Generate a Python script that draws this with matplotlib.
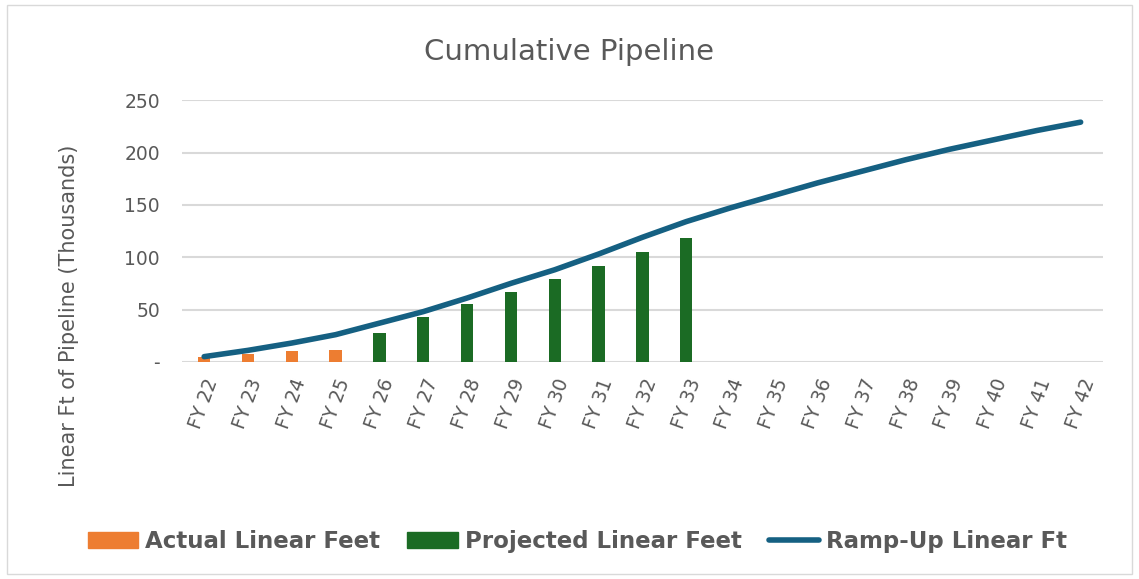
import matplotlib
matplotlib.use("Agg")
import matplotlib.pyplot as plt
from matplotlib.patches import Rectangle
from matplotlib.lines import Line2D

years = ["FY 22", "FY 23", "FY 24", "FY 25", "FY 26", "FY 27", "FY 28", "FY 29", "FY 30",
         "FY 31", "FY 32", "FY 33", "FY 34", "FY 35", "FY 36", "FY 37", "FY 38", "FY 39",
         "FY 40", "FY 41", "FY 42"]
actual = [5, 8, 10, 11]
projected = [28, 43, 55, 67, 79, 92, 105, 118]
ramp_up = [5, 11, 18, 26, 37, 48, 61, 75, 88, 103, 119, 134, 147, 159, 171, 182, 193,
           203, 212, 221, 229]
y_ticks = [0, 50, 100, 150, 200, 250]
y_tick_labels = ["-", "50", "100", "150", "200", "250"]

gray = "#595959"
orange = "#ED7D31"
green = "#1B6B24"
blue = "#156082"

fig = plt.figure(figsize=(11.39, 5.79), dpi=100)
fig.patches.append(Rectangle((0.006, 0.008), 0.988, 0.984, transform=fig.transFigure,
                             fill=False, edgecolor="#D9D9D9", linewidth=1))
ax = fig.add_axes([0.160, 0.375, 0.808, 0.452])

x = list(range(len(years)))
ax.bar(x[:len(actual)], actual, width=0.28, color=orange, zorder=2)
ax.bar(x[len(actual):len(actual) + len(projected)], projected, width=0.28, color=green, zorder=2)
ax.plot(x, ramp_up, color=blue, linewidth=4, solid_capstyle="round", zorder=3)

ax.set_xlim(-0.5, len(years) - 0.5)
ax.set_ylim(0, 250)
ax.set_yticks(y_ticks)
ax.set_yticklabels(y_tick_labels, fontsize=13.5, color=gray)
ax.set_xticks(x)
ax.set_xticklabels(years, rotation=70, fontsize=13.5, color=gray, ha="right",
                   rotation_mode="anchor")
ax.tick_params(axis="y", length=0, pad=16)
ax.tick_params(axis="x", length=0, pad=10)
ax.grid(axis="y", color="#D9D9D9", linewidth=1.5, zorder=0)
ax.set_axisbelow(True)
for s in ax.spines.values():
    s.set_visible(False)

ax.set_ylabel("Linear Ft of Pipeline (Thousands)", fontsize=15, color=gray)
ax.yaxis.set_label_coords(-0.112, 0.176)
fig.text(0.5, 0.91, "Cumulative Pipeline", ha="center", va="center", fontsize=21, color=gray)

handles = [Rectangle((0, 0), 1, 1, color=orange),
           Rectangle((0, 0), 1, 1, color=green),
           Line2D([0], [0], color=blue, linewidth=4, solid_capstyle="round")]
labels = ["Actual Linear Feet", "Projected Linear Feet", "Ramp-Up Linear Ft"]
fig.legend(handles, labels, loc="center", bbox_to_anchor=(0.507, 0.065), ncol=3, frameon=False,
           prop={"weight": "bold", "size": 16.5},
           labelcolor=gray, handlelength=2.2, handletextpad=0.3, columnspacing=1.2)

fig.savefig("out.png", dpi=100)
